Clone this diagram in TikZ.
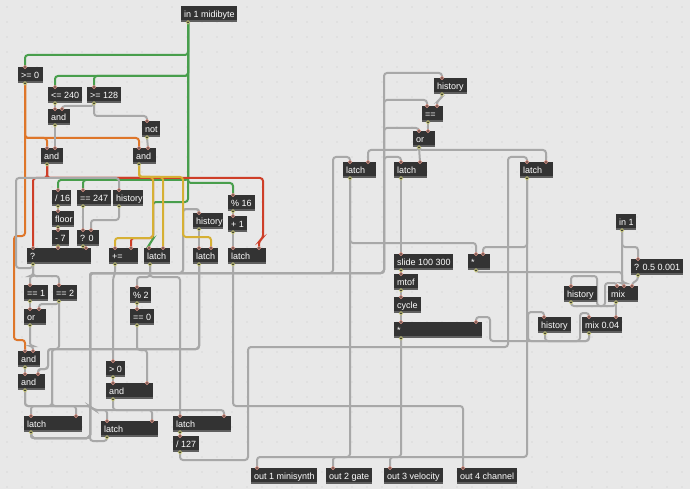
\documentclass[tikz,border=0pt]{standalone}
\usepackage{fontspec}
\setmainfont{Liberation Sans}
\pgfdeclarelayer{bg}
\pgfdeclarelayer{wires}
\pgfdeclarelayer{ports}
\pgfsetlayers{bg,wires,main,ports}
\definecolor{bgc}{RGB}{232,232,232}
\definecolor{dotc}{RGB}{200,200,200}
\definecolor{boxc}{RGB}{51,51,51}
\definecolor{stripc}{RGB}{95,95,95}
\definecolor{wirec}{RGB}{168,168,168}
\definecolor{greenc}{RGB}{72,158,76}
\definecolor{orangec}{RGB}{222,118,42}
\definecolor{redc}{RGB}{206,62,40}
\definecolor{yellowc}{RGB}{214,176,52}
\definecolor{inc}{RGB}{226,150,135}
\definecolor{outc}{RGB}{200,200,120}
\tikzset{
  box/.style={fill=boxc, draw=none, minimum height=16pt, inner sep=0pt, anchor=north west,
    path picture={\fill[stripc] ([yshift=2.5pt]path picture bounding box.south west) rectangle (path picture bounding box.south east);}},
  lbl/.style={text=white, font=\fontsize{9}{10}\selectfont, inner sep=0pt, anchor=base west},
  w/.style={draw=wirec, line width=2pt, rounded corners=3pt},
  gw/.style={w, draw=greenc},
  ow/.style={w, draw=orangec},
  rw/.style={w, draw=redc},
  yw/.style={w, draw=yellowc},
  inport/.style={draw=inc, fill=boxc, line width=0.7pt},
  outport/.style={draw=outc, fill=boxc, line width=0.7pt},
}
\newcommand{\bx}[5]{\node[box,minimum width=#4pt] (#1) at (#2,#3) {};
  \node[lbl] (#1t) at ([xshift=3pt,yshift=-3.4pt]#1.west) {#5};}
\begin{document}
\begin{tikzpicture}[x=1pt,y=-1pt]
\begin{pgfonlayer}{bg}
\fill[bgc] (0,0) rectangle (690,489);
\foreach \i in {0,...,45} \foreach \j in {0,...,32} \fill[dotc] (7+15*\i,7+15*\j) circle (0.6pt);
\end{pgfonlayer}
\useasboundingbox (0,0) rectangle (690,489);
% ---------- boxes
\bx{inmidi}{181}{6}{56}{in 1 midibyte}
\bx{ge0}{18}{67}{25}{>= 0}
\bx{le240}{48}{87}{34}{<= 240}
\bx{ge128}{87}{87}{34}{>= 128}
\bx{andA}{48}{109}{22}{and}
\bx{notA}{142}{121}{18}{not}
\bx{andB}{41}{148}{22}{and}
\bx{andC}{133}{148}{23}{and}
\bx{div16}{52}{190}{19}{/ 16}
\bx{eq247}{77}{190}{34}{== 247}
\bx{histA}{113}{190}{30}{history}
\bx{floor}{52}{211}{22}{floor}
\bx{min7}{52}{230}{17}{- 7}
\bx{q0}{77}{230}{22}{? 0}
\bx{qA}{27}{248}{64}{?}
\bx{pluseq}{109}{248}{29}{+=}
\bx{latA}{144}{248}{26}{latch}
\bx{mod16}{228}{195}{27}{\% 16}
\bx{plus1}{228}{216}{19}{+ 1}
\bx{histB}{193}{213}{30}{history}
\bx{latB}{193}{248}{25}{latch}
\bx{latC}{228}{248}{38}{latch}
\bx{eq1}{24}{285}{24}{== 1}
\bx{eq2}{53}{285}{24}{== 2}
\bx{orA}{24}{309}{22}{or}
\bx{mod2}{130}{287}{21}{\% 2}
\bx{eq0}{130}{309}{24}{== 0}
\bx{andD}{18}{351}{22}{and}
\bx{andE}{18}{374}{27}{and}
\bx{gt0}{106}{361}{19}{> 0}
\bx{andF}{106}{383}{47}{and}
\bx{latD}{24}{416}{58}{latch}
\bx{latE}{101}{421}{57}{latch}
\bx{latF}{173}{416}{58}{latch}
\bx{div127}{173}{436}{26}{/ 127}
\bx{out1}{251}{468}{66}{out 1 minisynth}
\bx{out2}{326}{468}{46}{out 2 gate}
\bx{out3}{384}{468}{59}{out 3 velocity}
\bx{out4}{457}{468}{60}{out 4 channel}
\bx{histC}{434}{78}{33}{history}
\bx{eqB}{422}{106}{21}{==}
\bx{orB}{413}{131}{22}{or}
\bx{latG}{343}{162}{33}{latch}
\bx{latH}{394}{162}{33}{latch}
\bx{latI}{520}{162}{33}{latch}
\bx{slide}{394}{254}{59}{slide 100 300}
\bx{mulA}{468}{254}{22}{*}
\bx{mtof}{394}{274}{24}{mtof}
\bx{cycle}{394}{297}{27}{cycle}
\bx{mulB}{394}{322}{88}{*}
\bx{inone}{616}{214}{20}{in 1}
\bx{qB}{631}{259}{52}{? 0.5 0.001}
\bx{histD}{564}{286}{33}{history}
\bx{mix}{608}{286}{30}{mix}
\bx{histE}{538}{317}{33}{history}
\bx{mixB}{582}{317}{40}{mix 0.04}
% ---------- ports
\begin{pgfonlayer}{ports}
\foreach \n/\d in {inmidi/7, ge0/7, le240/7, ge128/7, andA/7, notA/5, andB/6, andC/6, div16/6, eq247/6, histA/6, floor/6, min7/6, q0/6, qA/6, pluseq/6, latA/6, mod16/5, plus1/5, histB/6, latB/6, latC/5, eq1/6, eq2/6, orA/6, mod2/7, eq0/7, andD/7, andE/7, gt0/7, andF/7, latD/7, latE/6, latF/7, div127/7, histC/8, eqB/6, orB/6, latG/7, latH/7, latI/7, slide/7, mulA/8, mtof/7, cycle/7, mulB/7, inone/6, qB/7, histD/7, mix/8, histE/7, mixB/7}
  \draw[outport] ([xshift=\d pt]\n.south west) circle (1.7pt);
\foreach \n/\d in {ge0/7, le240/7, ge128/7, andA/7, andA/14, notA/5, andB/6, andB/14, andC/6, andC/15, div16/6, eq247/6, histA/6, floor/6, min7/6, q0/6, q0/14, qA/6, qA/31, qA/59, pluseq/6, pluseq/22, latA/5, latA/19, mod16/5, plus1/5, histB/6, latB/6, latB/18, latC/5, latC/31, eq1/6, eq2/6, orA/6, orA/15, mod2/7, eq0/7, andD/7, andD/15, andE/7, andE/20, gt0/7, andF/7, andF/41, latD/7, latD/52, latE/6, latE/51, latF/7, latF/51, div127/7, out1/6, out2/7, out3/6, out4/6, histC/8, eqB/5, eqB/15, orB/6, orB/15, latG/7, latG/25, latH/7, latH/26, latI/7, latI/26, slide/7, mulA/8, mulA/15, mtof/7, cycle/7, mulB/7, mulB/82, qB/7, histD/7, mix/9, mix/16, mix/24, histE/6, mixB/7, mixB/34}
  \draw[inport] ([xshift=\d pt]\n.north west) circle (1.7pt);
\end{pgfonlayer}
% ---------- wires
\begin{pgfonlayer}{wires}
% green
\draw[gw] ([xshift=7pt]inmidi.south west) -- (188,55) -| ([xshift=7pt]ge0.north west);
\draw[gw] ([xshift=7pt]inmidi.south west) -- (188,76) -| ([xshift=7pt]le240.north west);
\draw[gw] ([xshift=7pt]inmidi.south west) -- (188,76) -| ([xshift=7pt]ge128.north west);
\draw[gw] ([xshift=7pt]inmidi.south west) -- (188,180) -| ([xshift=6pt]div16.north west);
\draw[gw] ([xshift=7pt]inmidi.south west) -- (188,180) -| ([xshift=6pt]eq247.north west);
\draw[gw] ([xshift=7pt]inmidi.south west) -- (188,183) -| ([xshift=5pt]mod16.north west);
\draw[gw] ([xshift=7pt]inmidi.south west) -- (188,202) -- (153,202) -- (153,240) -- (149,244) -- ([xshift=5pt]latA.north west);
% orange
\draw[ow] ([xshift=7pt]ge0.south west) -- (25,138) -| ([xshift=6pt]andB.north west);
\draw[ow] ([xshift=7pt]ge0.south west) -- (25,138) -| ([xshift=6pt]andC.north west);
\draw[ow] ([xshift=7pt]ge0.south west) -- (25,236) -- (14,236) -- (14,340) -- (25,340) -- ([xshift=7pt]andD.north west);
% red
\draw[rw] ([xshift=6pt]andB.south west) -- (47,178) -| ([xshift=6pt]qA.north west);
\draw[rw] ([xshift=6pt]andB.south west) -- (47,178) -- (263,178) -- (263,238) -- (259,241) -- ([xshift=31pt]latC.north west);
\draw[rw] ([xshift=6pt]andB.south west) -- (47,178) -- (153,178) -- (153,238) -| ([xshift=22pt]pluseq.north west);
% gray, top left
\draw[w] ([xshift=7pt]ge128.south west) -- (94,106) -| ([xshift=14pt]andA.north west);
\draw[w] ([xshift=7pt]ge128.south west) -- (94,116) -| ([xshift=5pt]notA.north west);
\draw[w] ([xshift=7pt]le240.south west) -- ([xshift=7pt]andA.north west);
\draw[w] ([xshift=7pt]andA.south west) -- ([xshift=14pt]andB.north west);
\draw[w] ([xshift=5pt]notA.south west) -- ([xshift=15pt]andC.north west);
\draw[w] ([xshift=6pt]qA.south west) -- (33,268) -- (16,268) -- (16,178) -| ([xshift=6pt]histA.north west);
\draw[w] ([xshift=6pt]div16.south west) -- ([xshift=6pt]floor.north west);
\draw[w] ([xshift=6pt]floor.south west) -- ([xshift=6pt]min7.north west);
\draw[w] ([xshift=6pt]min7.south west) -- ([xshift=31pt]qA.north west);
\draw[w] ([xshift=6pt]eq247.south west) -- ([xshift=6pt]q0.north west);
\draw[w] ([xshift=6pt]histA.south west) -- (119,220) -| ([xshift=14pt]q0.north west);
\draw[w] ([xshift=6pt]q0.south west) -- ([xshift=59pt]qA.north west);
\draw[w] ([xshift=6pt]qA.south west) -- (33,276) -| ([xshift=6pt]eq1.north west);
\draw[w] ([xshift=6pt]qA.south west) -- (33,276) -| ([xshift=6pt]eq2.north west);
\draw[w] ([xshift=6pt]eq1.south west) -- ([xshift=6pt]orA.north west);
\draw[w] ([xshift=6pt]eq2.south west) -- (59,304) -| ([xshift=15pt]orA.north west);
\draw[w] ([xshift=6pt]orA.south west) -- (30,346) -| ([xshift=15pt]andD.north west);
\draw[w] ([xshift=7pt]andD.south west) -- ([xshift=7pt]andE.north west);
\draw[w] ([xshift=6pt]eq2.south west) -- (59,349) -- (48,349) -- (48,369) -| ([xshift=20pt]andE.north west);
\draw[w] ([xshift=6pt]latB.south west) -- (199,349) -- (48,349) -- (48,369) -| ([xshift=20pt]andE.north west);
\draw[w] ([xshift=6pt]pluseq.south west) -- (115,274) -- (113,278) -- ([xshift=7pt]gt0.north west);
\draw[w] ([xshift=6pt]latA.south west) -- (150,277) -| ([xshift=7pt]mod2.north west);
\draw[w] ([xshift=6pt]latA.south west) -- (150,277) -| ([xshift=7pt]latF.north west);
\draw[w] ([xshift=7pt]mod2.south west) -- ([xshift=7pt]eq0.north west);
\draw[w] ([xshift=7pt]eq0.south west) -- (137,350) -| ([xshift=41pt]andF.north west);
\draw[w] ([xshift=7pt]gt0.south west) -- ([xshift=7pt]andF.north west);
\draw[w] ([xshift=7pt]andE.south west) -- (25,406) -| ([xshift=52pt]latD.north west);
\draw[w] ([xshift=7pt]andE.south west) -- (25,406) -- (90,406) -- (94,410) -| ([xshift=51pt]latF.north west);
\draw[w] ([xshift=7pt]andF.south west) -- (113,410) -| ([xshift=51pt]latE.north west);
\draw[w] ([xshift=6pt]latB.south west) -- (199,349) -- (52,349) -- (52,406) -| ([xshift=7pt]latD.north west);
\draw[w] ([xshift=6pt]latB.south west) -- (199,349) -- (52,349) -- (52,406) -- (90,406) -- (94,410) -| ([xshift=6pt]latE.north west);
\draw[w] ([xshift=7pt]latF.south west) -- ([xshift=7pt]div127.north west);
% note bus
\draw[w] ([xshift=7pt]latD.south west) -- (31,438) -- (90,438) -- (90,273) -- (384,273) -- (384,73) -| ([xshift=8pt]histC.north west);
\draw[w] ([xshift=7pt]latD.south west) -- (31,438) -- (90,438) -- (90,273) -- (384,273) -- (384,100) -| ([xshift=5pt]eqB.north west);
\draw[w] ([xshift=7pt]latD.south west) -- (31,438) -- (90,438) -- (90,273) -- (384,273) -- (384,128) -| ([xshift=6pt]orB.north west);
\draw[w] ([xshift=7pt]latD.south west) -- (31,438) -- (90,438) -- (90,273) -- (384,273) -- (384,157) -| ([xshift=7pt]latH.north west);
\draw[w] ([xshift=7pt]latD.south west) -- (31,438) -- (90,438) -- (90,273) -- (333,273) -- (333,157) -| ([xshift=7pt]latG.north west);
\draw[w] ([xshift=7pt]latD.south west) -- (31,438) -- (90,438) -- (90,273) -- (183,273) -- (183,209) -| ([xshift=6pt]histB.north west);
\draw[w] ([xshift=6pt]latE.south west) -- (107,441) -- (90,441) -- (90,273) -- (183,273) -- (183,209) -| ([xshift=6pt]histB.north west);
\draw[w] ([xshift=6pt]histB.south west) -- ([xshift=6pt]latB.north west);
\draw[w] ([xshift=5pt]mod16.south west) -- ([xshift=5pt]plus1.north west);
\draw[w] ([xshift=5pt]plus1.south west) -- ([xshift=5pt]latC.north west);
\draw[w] ([xshift=5pt]latC.south west) -- (233,406) -| ([xshift=6pt]out4.north west);
% top right
\draw[w] ([xshift=8pt]histC.south west) -- (442,98) -- (437,101) -- ([xshift=15pt]eqB.north west);
\draw[w] ([xshift=6pt]eqB.south west) -- ([xshift=15pt]orB.north west);
\draw[w] ([xshift=6pt]orB.south west) -- (419,150) -| ([xshift=25pt]latG.north west);
\draw[w] ([xshift=6pt]orB.south west) -- ([xshift=26pt]latH.north west);
\draw[w] ([xshift=6pt]orB.south west) -- (419,150) -| ([xshift=26pt]latI.north west);
\draw[w] ([xshift=7pt]latG.south west) -- (350,457) -| ([xshift=7pt]out2.north west);
\draw[w] ([xshift=7pt]latG.south west) -- (350,243) -| ([xshift=8pt]mulA.north west);
\draw[w] ([xshift=7pt]latH.south west) -- ([xshift=7pt]slide.north west);
\draw[w] ([xshift=7pt]latI.south west) -- (527,457) -| ([xshift=6pt]out3.north west);
\draw[w] ([xshift=7pt]latI.south west) -- (527,247) -| ([xshift=15pt]mulA.north west);
\draw[w] ([xshift=7pt]slide.south west) -- ([xshift=7pt]mtof.north west);
\draw[w] ([xshift=7pt]mtof.south west) -- ([xshift=7pt]cycle.north west);
\draw[w] ([xshift=7pt]cycle.south west) -- ([xshift=7pt]mulB.north west);
\draw[w] ([xshift=7pt]mulB.south west) -- (401,457) -| ([xshift=6pt]out1.north west);
\draw[w] ([xshift=7pt]mixB.south west) -- (589,341) -- (490,341) -- (490,317) -| ([xshift=82pt]mulB.north west);
\draw[w] ([xshift=7pt]mixB.south west) -- (589,341) -- (528,341) -- (528,312) -| ([xshift=6pt]histE.north west);
\draw[w] ([xshift=7pt]histE.south west) -- (545,341) -- (580,341) -- (580,313) -| ([xshift=7pt]mixB.north west);
\draw[w] ([xshift=8pt]mulA.south west) -- (476,272) -- (622,272) -- (622,283) -| ([xshift=16pt]mix.north west);
\draw[w] ([xshift=6pt]inone.south west) -- (622,283) -| ([xshift=16pt]mix.north west);
\draw[w] ([xshift=6pt]inone.south west) -- (622,247) -| ([xshift=7pt]qB.north west);
\draw[w] ([xshift=7pt]qB.south west) -- (638,280) -- (632,283) -- ([xshift=24pt]mix.north west);
\draw[w] ([xshift=7pt]histD.south west) -- (571,306) -- (605,306) -- (605,283) -| ([xshift=9pt]mix.north west);
\draw[w] ([xshift=8pt]mix.south west) -- (616,306) -- (597,306) -- (597,276) -| ([xshift=7pt]histD.north west);
\draw[w] ([xshift=8pt]mix.south west) -- ([xshift=34pt]mixB.north west);
\draw[w] ([xshift=7pt]div127.south west) -- (180,460) -- (248,460) -- (248,347) -- (508,347) -- (508,157) -| ([xshift=7pt]latI.north west);
% yellow
\draw[yw] ([xshift=6pt]andC.south west) -- (139,177) -- (153,177) -- (153,238) -| ([xshift=6pt]pluseq.north west);
\draw[yw] ([xshift=6pt]andC.south west) -- (139,177) -| ([xshift=19pt]latA.north west);
\draw[yw] ([xshift=6pt]andC.south west) -- (139,177) -- (183,177) -- (183,237) -| ([xshift=18pt]latB.north west);
\end{pgfonlayer}
\end{tikzpicture}
\end{document}
